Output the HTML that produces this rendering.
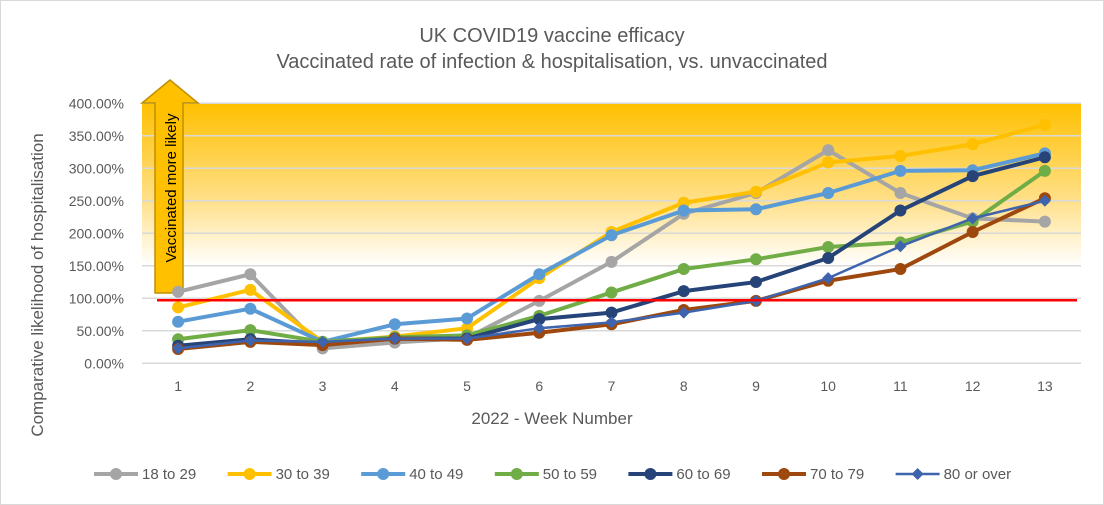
<!DOCTYPE html>
<html><head><meta charset="utf-8"><style>
body{margin:0;background:#fff;}
svg{display:block;font-family:"Liberation Sans",sans-serif;}
</style></head><body>
<svg id="chart" width="1104" height="505">
<defs>
<linearGradient id="band" x1="0" y1="0" x2="0" y2="1">
<stop offset="0" stop-color="#FFC000"/><stop offset="0.6" stop-color="#FFE08A"/><stop offset="1" stop-color="#FFFFFF"/>
</linearGradient>
</defs>
<rect x="0.5" y="0.5" width="1103" height="504" fill="#fff" stroke="#D9D9D9"/>
<text x="552" y="42" text-anchor="middle" font-size="20" fill="#595959">UK COVID19 vaccine efficacy</text>
<text x="552" y="68" text-anchor="middle" font-size="20" fill="#595959">Vaccinated rate of infection &amp; hospitalisation, vs. unvaccinated</text>
<g id="plot"></g>
<text x="552" y="424" text-anchor="middle" font-size="17" fill="#595959">2022 - Week Number</text>
<text transform="translate(43,285) rotate(-90)" text-anchor="middle" font-size="17" fill="#595959">Comparative likelihood of hospitalisation</text>
<g id="legend"></g>
</svg>
<script>
const weeks=["1","2","3","4","5","6","7","8","9","10","11","12","13"];
const yTicks=[0,50,100,150,200,250,300,350,400];
const seriesNames=["18 to 29","30 to 39","40 to 49","50 to 59","60 to 69","70 to 79","80 or over"];
const s18=[110,137,23,32,39,96,156,230,262,328,262,223,218];
const s30=[86,113,33,41,54,131,202,247,264,309,319,337,367];
const s40=[64,84,33,60,69,137,197,235,237,262,296,297,323];
const s50=[37,51,33,40,43,73,109,145,160,179,186,218,296];
const s60=[27,37,30,38,38,68,78,111,125,162,235,288,317];
const s70=[22,33,28,38,36,47,60,82,96,127,145,202,254];
const s80=[23,35,33,38,38,54,63,78,96,131,180,223,250];
const baseline=[97];
const seriesData=[s18,s30,s40,s50,s60,s70,s80];
const colors=["#A5A5A5","#FFC000","#5B9BD5","#70AD47","#264478","#9E480E","#3E64AE"];
const NS="http://www.w3.org/2000/svg";
const X0=142,X1=1081,Y0=363.3,Y1=103.3;
const band=(X1-X0)/weeks.length;
function xs(i){return X0+band*(i+0.5);}
function ys(v){return Y0-(v/400)*(Y0-Y1);}
function mk(tag,attrs,parent){const e=document.createElementNS(NS,tag);for(const k in attrs)e.setAttribute(k,attrs[k]);parent.appendChild(e);return e;}
const plot=document.getElementById('plot');
let r=mk('rect',{x:X0,y:ys(400),width:X1-X0,height:ys(150)-ys(400),fill:'url(#band)'},plot);


yTicks.forEach(t=>{
 const l=mk('line',{x1:X0,x2:X1,y1:ys(t),y2:ys(t),stroke:'#D9D9D9','stroke-width':1.5},plot);
 
 
 const tx=mk('text',{x:124,y:ys(t)+5,'text-anchor':'end','font-size':14,fill:'#595959'},plot);
 tx.textContent=t.toFixed(2)+'%';
 
 
});
weeks.forEach((w,i)=>{
 const tx=mk('text',{x:xs(i),y:391,'text-anchor':'middle','font-size':14,fill:'#595959'},plot);
 tx.textContent=w;
 
 
});
const ar=mk('polygon',{points:'155,293 183,293 183,103 198,103 170,80 142,103 155,103',fill:'#FFC000',stroke:'#BF9000','stroke-width':1.5},plot);


const at=mk('text',{transform:'translate(176,188) rotate(-90)','text-anchor':'middle','font-size':15,fill:'#000'},plot);
at.textContent='Vaccinated more likely';


function marker(parent,x,y,c,i){
 let m;
 if(i===6){m=mk('polygon',{points:`${x},${y-6} ${x+6},${y} ${x},${y+6} ${x-6},${y}`,fill:c},parent);}
 else m=mk('circle',{cx:x,cy:y,r:6,fill:c},parent);
 return m;
}
seriesData.forEach((d,si)=>{
 const g=mk('g',{},plot);
 
 
 const p=mk('polyline',{points:d.map((v,i)=>xs(i)+','+ys(v)).join(' '),fill:'none',stroke:colors[si],'stroke-width':si===6?2.5:4,'stroke-linejoin':'round'},g);
 
 
 d.forEach((v,i)=>{
  const m=marker(g,xs(i),ys(v),colors[si],si);
  
  
 });
});
const bl=mk('line',{x1:157,x2:1077,y1:ys(baseline[0]),y2:ys(baseline[0]),stroke:'#FF0000','stroke-width':2.5},plot);


const leg=document.getElementById('legend');
seriesNames.forEach((n,i)=>{
 const x=94+i*133.6,y=474;
 const g=mk('g',{},leg);
 
 
 mk('line',{x1:x,x2:x+44,y1:y,y2:y,stroke:colors[i],'stroke-width':i===6?2.5:4},g);
 marker(g,x+22,y,colors[i],i);
 const t=mk('text',{x:x+48,y:y+5,'font-size':15,fill:'#595959'},g);
 t.textContent=n;
});
</script>
</body></html>
